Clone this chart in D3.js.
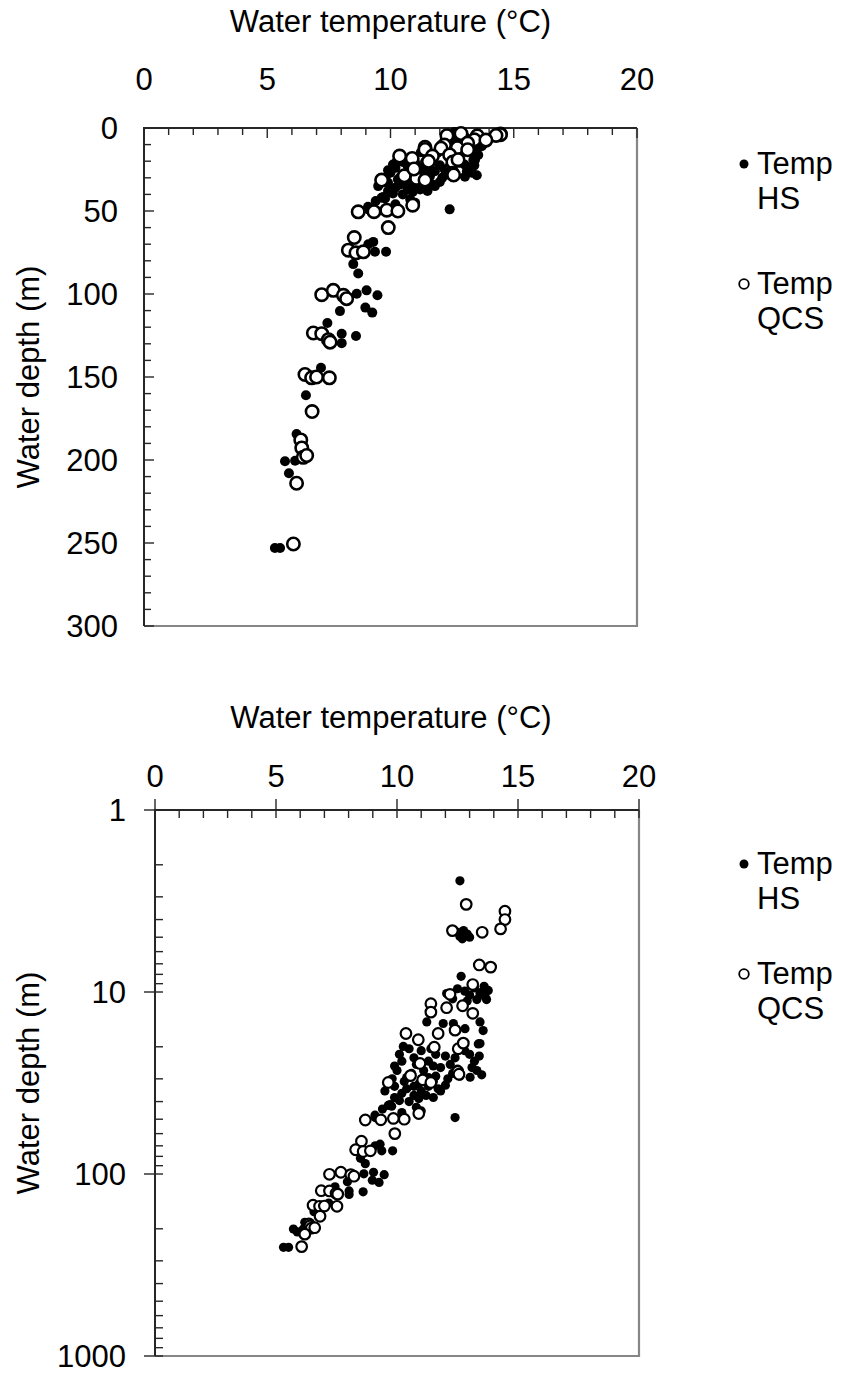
<!DOCTYPE html>
<html>
<head>
<meta charset="utf-8">
<script src="https://cdn.jsdelivr.net/npm/d3@7"></script>
<style>
  html, body { margin: 0; padding: 0; background: #fff; }
  svg { display: block; font-family: "Liberation Sans", Arial, sans-serif; }
</style>
</head>
<body>
<svg id="chart" width="850" height="1373"></svg>
<script>
// ---- Data (temperature °C, depth m) ----
const tempTicks = [0, 5, 10, 15, 20];
const depthTicksLinear = [0, 50, 100, 150, 200, 250, 300];
const depthTicksLog = [1, 10, 100, 1000];
const xTitle = "Water temperature (°C)";
const yTitle = "Water depth (m)";
const seriesNames = [["Temp", "HS"], ["Temp", "QCS"]];

const hsPoints = [
  [12.6,2.45],
  [12.5,4.7],[12.75,4.6],[12.9,4.8],[12.6,4.95],[13.0,5.0],[12.7,5.1],
  [12.65,8.2],
  [12.05,10.2],[12.5,9.6],[12.8,9.9],[13.0,10.4],[13.2,9.5],[13.43,10.2],[13.64,10.6],[13.77,9.8],[13.6,9.3],[12.3,10.9],[12.9,11.2],[13.3,11.0],[13.5,10.0],[13.7,11.0],[13.1,9.0],
  [13.43,14.6],[11.23,14.6],[11.91,14.9],[12.33,14.9],[12.81,15.9],[13.56,16.3],[13.36,19.3],[10.26,19.9],[13.43,19.2],
  [10.5,20.5],[11.0,21],[11.6,22],[12.0,22.5],[12.4,23],[13.0,22],[10.2,24],[10.8,25],[11.3,24],[11.8,26],[12.2,25],[13.2,24],
  [10.1,22],[10.7,23],[11.4,20.5],[12.8,21],[13.4,22.5],[9.9,25.5],[11.5,25.5],[12.5,26.5],[13.1,26],
  [10.0,27],[10.6,28],[11.1,27],[11.6,29],[12.6,29],[13.02,29.4],[9.8,30],[10.3,31],[10.9,32],[11.5,31],[12.1,30],
  [10.4,29.5],[11.3,29.5],[12.3,28],[13.5,28.5],[13.3,27],[9.6,32],[10.7,33],[11.3,33],[12.0,32.5],
  [9.9,33],[10.4,34],[11.0,35],[11.7,34],[10.2,36],[10.7,37],[11.2,37],[9.9,38],[10.5,40],[9.71,41.5],[9.64,42],[10.8,43],[11.0,45],[11.8,35],
  [9.5,35],[10.9,38.5],[11.5,38],[10.1,39.5],[9.4,44],[10.2,46],
  [12.4,49],[9.09,47.5],[9.1,49],[9.78,42.4],
  [9.3,68.6],[9.37,74.6],[9.82,74.6],[8.49,82],[8.69,87.7],[9.1,70],
  [8.63,99.8],[9.03,97.8],[9.47,100.8],[7.95,110.3],[8.98,108.2],[9.26,111.2],[7.44,117.5],[8.02,123.9],[8.02,129.6],[8.6,125.3],
  [7.18,144.4],[6.57,161],[6.19,184.3],[5.72,200.8],[6.13,200.4],[5.88,208],[5.31,253],[5.52,253]
];

const qcsPoints = [
  [12.86,3.3],[14.46,3.6],[14.46,4.0],[14.28,4.5],[13.52,4.7],[12.29,4.6],
  [13.4,7.1],[13.87,7.3],[13.13,9.1],[12.19,10.3],[11.4,11.6],[11.4,12.9],[12.05,12.2],[12.71,11.9],[13.13,13.1],
  [10.37,16.9],[10.88,18.3],[11.7,16.9],[12.4,16.2],[11.54,20.1],[12.53,20.5],[12.74,19.1],
  [9.64,31.4],[10.56,28.8],[11.06,30.4],[11.4,31.4],[12.51,27.3],[10.95,24.7],[12.56,28.3],
  [10.9,46.5],[8.69,50.5],[9.33,50.4],[9.85,49.5],[10.3,50],[9.91,60],
  [8.53,66],[8.29,73.6],[8.6,75.2],[8.9,74.6],
  [7.21,100.4],[7.68,97.8],[8.09,100.8],[8.22,102.8],[6.87,123.5],[7.21,123.9],[7.48,127.5],[7.55,129],
  [6.53,148.5],[6.8,150.5],[7.0,150],[7.52,150.5],[6.82,170.8],[6.36,187.9],[6.4,192.7],[6.46,198.4],[6.6,197.3],[6.19,214],[6.06,250.6]
];

const svg = d3.select("#chart");
const FONT = 31;
const DARK = "#262626", GRAY = "#868686";

function drawChart(cfg) {
  const g = svg.append("g");
  const x = d3.scaleLinear().domain([0, 20]).range([cfg.left, cfg.right]);
  const y = cfg.log
    ? d3.scaleLog().domain([1, 1000]).range([cfg.top, cfg.bottom])
    : d3.scaleLinear().domain([0, 300]).range([cfg.top, cfg.bottom]);

  // border right/bottom (gray)
  g.append("path")
    .attr("d", `M${cfg.right},${cfg.top}V${cfg.bottom}H${cfg.left}`)
    .attr("fill", "none").attr("stroke", GRAY).attr("stroke-width", 2.2);

  // x minor ticks
  const xMinor = d3.range(0, 21, 1);
  g.selectAll(null).data(xMinor).join("line")
    .attr("x1", d => x(d)).attr("x2", d => x(d))
    .attr("y1", d => cfg.top - (d % 5 === 0 ? cfg.outMajor : 0))
    .attr("y2", d => cfg.top + (d % 5 === 0 ? cfg.inMajor : cfg.inMinor))
    .attr("stroke", DARK).attr("stroke-width", 1.4);

  // y ticks
  let yMinor;
  if (cfg.log) {
    yMinor = [];
    [1, 10, 100].forEach(dec => { for (let k = 1; k <= 10; k++) yMinor.push(dec * k); });
    yMinor = Array.from(new Set(yMinor));
  } else {
    yMinor = d3.range(0, 301, 10);
  }
  const isMajor = d => cfg.log ? depthTicksLog.includes(d) : d % 50 === 0;
  g.selectAll(null).data(yMinor).join("line")
    .attr("y1", d => y(d)).attr("y2", d => y(d))
    .attr("x1", d => cfg.left - (isMajor(d) ? cfg.outMajor : 0))
    .attr("x2", d => cfg.left + (isMajor(d) ? cfg.inMajor : cfg.inMinor))
    .attr("stroke", DARK).attr("stroke-width", 1.4);

  // axis lines top / left
  g.append("path")
    .attr("d", `M${cfg.right},${cfg.top}H${cfg.left}V${cfg.bottom}`)
    .attr("fill", "none").attr("stroke", DARK).attr("stroke-width", 2);

  // x tick labels
  g.selectAll(null).data(tempTicks).join("text")
    .attr("x", d => x(d)).attr("y", cfg.top - cfg.xLabelOff)
    .attr("text-anchor", "middle").attr("font-size", FONT).attr("fill", "#000")
    .text(d => d);
  // y tick labels
  const yt = cfg.log ? depthTicksLog : depthTicksLinear;
  g.selectAll(null).data(yt).join("text")
    .attr("x", cfg.yLabelX).attr("y", d => y(d)).attr("dy", "0.35em")
    .attr("text-anchor", "end").attr("font-size", FONT).attr("fill", "#000")
    .text(d => d);

  // titles
  g.append("text").attr("x", (cfg.left + cfg.right) / 2 + cfg.titleDx).attr("y", cfg.titleY)
    .attr("text-anchor", "middle").attr("font-size", FONT).text(xTitle);
  g.append("text")
    .attr("transform", `translate(${cfg.yTitleX},${(cfg.top + cfg.bottom) / 2}) rotate(-90)`)
    .attr("text-anchor", "middle").attr("font-size", FONT).text(yTitle);

  // points
  g.selectAll(null).data(hsPoints).join("circle")
    .attr("cx", d => x(d[0])).attr("cy", d => y(d[1]))
    .attr("r", cfg.rFill).attr("fill", "#000");
  g.selectAll(null).data(qcsPoints).join("circle")
    .attr("cx", d => x(d[0])).attr("cy", d => y(d[1]))
    .attr("r", cfg.rOpen).attr("fill", "#fff").attr("stroke", "#000").attr("stroke-width", cfg.sOpen);

  // legend
  const lg = g.append("g");
  seriesNames.forEach((nm, i) => {
    const ly = cfg.legendY + i * cfg.legendGap;
    if (i === 0) {
      lg.append("circle").attr("cx", 744).attr("cy", ly - 10).attr("r", 4.5).attr("fill", "#000");
    } else {
      lg.append("circle").attr("cx", 744).attr("cy", ly - 10).attr("r", 4.8)
        .attr("fill", "#fff").attr("stroke", "#000").attr("stroke-width", 1.8);
    }
    lg.append("text").attr("x", 757).attr("y", ly).attr("font-size", FONT).text(nm[0]);
    lg.append("text").attr("x", 757).attr("y", ly + 35).attr("font-size", FONT).text(nm[1]);
  });
}

drawChart({
  log: false, left: 144, right: 637, top: 128, bottom: 626,
  outMajor: 0, inMajor: 10, inMinor: 7,
  xLabelOff: 38, yLabelX: 118, titleY: 32, titleDx: 0, yTitleX: 39,
  rFill: 5, rOpen: 6.2, sOpen: 2.6,
  legendY: 174, legendGap: 120
});
drawChart({
  log: true, left: 155, right: 639, top: 810, bottom: 1356,
  outMajor: 11, inMajor: 8, inMinor: 8,
  xLabelOff: 23, yLabelX: 126, titleY: 728, titleDx: -6, yTitleX: 39,
  rFill: 4.6, rOpen: 5.3, sOpen: 2.2,
  legendY: 874, legendGap: 110
});
</script>
</body>
</html>
